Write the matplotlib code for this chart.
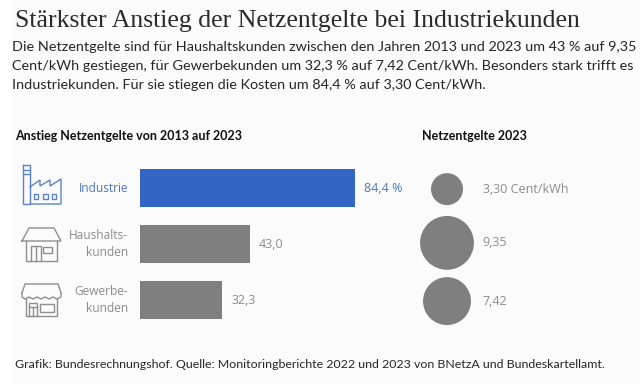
import matplotlib
matplotlib.use("Agg")
import matplotlib.pyplot as plt
from matplotlib.patches import Rectangle

categories = ["Industrie", "Haushalts-\nkunden", "Gewerbe-\nkunden"]
anstieg = [84.4, 43.0, 32.3]
anstieg_labels = ["84,4 %", "43,0", "32,3"]
netzentgelte = [3.30, 9.35, 7.42]
netz_labels = ["3,30 Cent/kWh", "9,35", "7,42"]
bar_colors = ["#3366c4", "#7f7f7f", "#7f7f7f"]
title = "Stärkster Anstieg der Netzentgelte bei Industriekunden"
body = ["Die Netzentgelte sind für Haushaltskunden zwischen den Jahren 2013 und 2023 um 43 % auf 9,35",
        "Cent/kWh gestiegen, für Gewerbekunden um 32,3 % auf 7,42 Cent/kWh. Besonders stark trifft es",
        "Industriekunden. Für sie stiegen die Kosten um 84,4 % auf 3,30 Cent/kWh."]
source = "Grafik: Bundesrechnungshof. Quelle: Monitoringberichte 2022 und 2023 von BNetzA und Bundeskartellamt."

W, H = 640, 384
fig = plt.figure(figsize=(6.4, 3.84), dpi=100, facecolor="white")

# pixel overlay
ov = fig.add_axes([0, 0, 1, 1])
ov.set_xlim(0, W); ov.set_ylim(H, 0); ov.axis("off")
ov.add_patch(Rectangle((12, 0), W - 12, H, color="#fbfbfb", lw=0, zorder=0))

def box(x, y, w, h):
    return (x / W, 1 - (y + h) / H, w / W, h / H)

# bars
ax = fig.add_axes(box(140, 160, 215, 168))
ax.patch.set_alpha(0)
ypos = [0, 1, 2]
ax.barh(ypos, anstieg, height=0.695, color=bar_colors)
ax.set_xlim(0, 84.4); ax.set_ylim(2.5, -0.5)
ax.axis("off")
for y, v, l, c in zip(ypos, anstieg, anstieg_labels, ["#4a76c4", "#8c8c8c", "#8c8c8c"]):
    ax.annotate(l, (v, y), xytext=(6.5, 0), textcoords="offset points", va="center",
                ha="left", color=c, fontsize=9, family="Open Sans")

# category labels
for y, name, c in zip(ypos, categories, ["#4a76c4", "#8c8c8c", "#8c8c8c"]):
    ax.annotate(name, (0, y), xytext=(-8.5, 0), textcoords="offset points", va="center",
                ha="right", color=c, fontsize=8.6, family="Open Sans", linespacing=1.33)

# bubbles
ax2 = fig.add_axes(box(400, 160, 94, 168))
ax2.patch.set_alpha(0)
ax2.set_xlim(-1, 1); ax2.set_ylim(2.5, -0.5); ax2.axis("off")
# area proportional to value; r(px)=8.8*sqrt(v), s in pt^2 of diameter
sizes = [(2 * 8.8 * 0.72) ** 2 * v for v in netzentgelte]
bub_y = [0.02, 0.98, 2.02]
ax2.scatter([0, 0, 0], bub_y, s=sizes, color="#7f7f7f", linewidths=0, clip_on=False)
for y, l in zip(bub_y, netz_labels):
    ax2.annotate(l, (0, y), xytext=(25.8, 0), textcoords="offset points", va="center",
                 ha="left", color="#8c8c8c", fontsize=9, family="Open Sans")

# titles and texts
ov.text(15, 21, title, family="Liberation Serif", fontsize=18.5, color="#2b2b2b", va="center", ha="left")
for yy, line in zip([47, 66, 85], body):
    ov.text(12.5, yy, line, family="Lato", fontsize=10.4, color="#262626", va="center", ha="left")
ov.text(15, 136, "Anstieg Netzentgelte von 2013 auf 2023", family="Lato", fontsize=9, weight="bold",
        color="#111111", va="center", ha="left")
ov.text(422, 136, "Netzentgelte 2023", family="Lato", fontsize=9, weight="bold",
        color="#111111", va="center", ha="left")
ov.text(15, 364, source, family="Lato", fontsize=8.95, color="#262626", va="center", ha="left")

# icons
blue, grey = "#5b84c8", "#8f8f8f"
def L(xs, ys, c, lw=1.0):
    ov.plot(xs, ys, color=c, lw=lw, solid_joinstyle="miter")
# factory
L([23, 23, 30, 30, 23], [165, 204, 204, 165, 165], blue)
L([23, 30], [170, 170], blue); L([23, 30], [174, 174], blue)
L([30, 40, 40, 50, 50, 61, 61, 30], [187, 180, 186, 180, 186, 179, 204, 204], blue)
for xx in (33.5, 43, 51.5):
    ov.add_patch(Rectangle((xx, 194), 4.5, 4.5, fill=False, ec=blue, lw=1.0))
# house
L([22, 29, 54, 61, 22], [241, 228, 228, 241, 241], grey)
L([26, 26, 57, 57], [241, 261, 261, 241], grey)
L([31, 31, 41, 41], [261, 246, 246, 261], grey)
L([35.5, 35.5], [247, 261], grey)
ov.add_patch(Rectangle((43, 247), 9, 6, fill=False, ec=grey, lw=1.0))
# shop
L([22, 25, 58, 61], [293, 284, 284, 293], grey)
L([22, 22, 25, 29, 33, 37, 41, 45, 49, 53, 57, 61, 61], [293, 297, 299, 297, 299, 297, 299, 297, 299, 297, 299, 297, 293], grey)
L([26, 26, 57, 57], [299, 316, 316, 299], grey)
L([29, 29, 37, 37], [316, 303, 303, 316], grey)
L([29, 37], [307, 307], grey); L([33, 33], [307, 316], grey)
ov.add_patch(Rectangle((40, 304), 14, 8, fill=False, ec=grey, lw=1.0))

fig.savefig("out.png", dpi=100)
